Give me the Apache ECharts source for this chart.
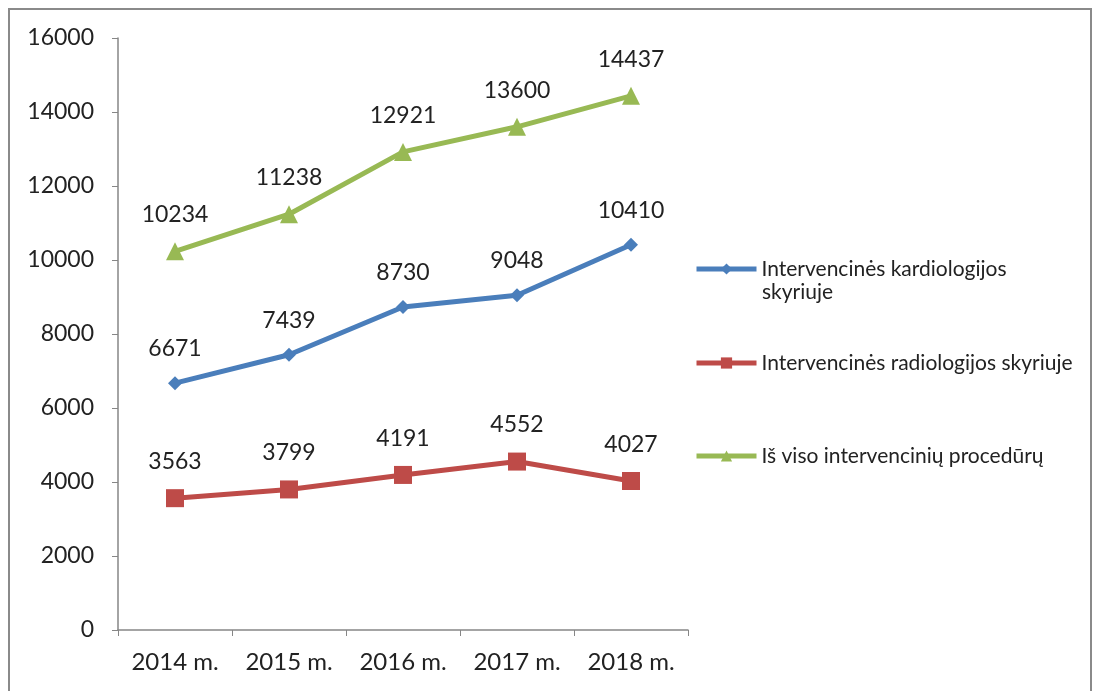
<!DOCTYPE html>
<html><head><meta charset="utf-8">
<script src="https://cdn.jsdelivr.net/npm/echarts@6/dist/echarts.min.js"></script>
<style>html,body{margin:0;padding:0;background:#fff;}#c{width:1093px;height:691px;}</style>
</head><body><div id="c"></div>
<script>
const categories = ['2014 m.', '2015 m.', '2016 m.', '2017 m.', '2018 m.'];
const kardiologija = [6671, 7439, 8730, 9048, 10410];
const radiologija = [3563, 3799, 4191, 4552, 4027];
const isViso = [10234, 11238, 12921, 13600, 14437];
const seriesNames = ['Intervencinės kardiologijos skyriuje', 'Intervencinės radiologijos skyriuje', 'Iš viso intervencinių procedūrų'];
const legendFirstLine = 'Intervencinės kardiologijos';
const legendSecondLine = 'skyriuje';

const FONT = 'Lato';
const chart = echarts.init(document.getElementById('c'));
const axisColor = '#868686';
const lbl = {show: true, position: 'top', distance: 16, color: '#222', fontSize: 23, fontFamily: FONT};
function mkLegend(name, top) {
  return {
    orient: 'vertical', left: 689, top: top, itemWidth: 60, itemHeight: 14,
    data: [name],
    formatter: function (n) { return n === seriesNames[0] ? legendFirstLine : n; },
    textStyle: {fontFamily: FONT, fontSize: 21, color: '#222', lineHeight: 24},
    lineStyle: {width: 5},
    selectedMode: false
  };
}
chart.setOption({
  animation: false,
  graphic: [
    {type: 'rect', shape: {x: 9, y: 9, width: 1082, height: 700}, style: {fill: 'none', stroke: '#8a8a8a', lineWidth: 2}, silent: true},
    {type: 'text', x: 762, y: 292, style: {text: legendSecondLine, font: '21px Lato', fill: '#222', verticalAlign: 'middle', align: 'left'}, silent: true}
  ],
  grid: {left: 118, right: 405, top: 38, bottom: 61, containLabel: false},
  legend: [
    mkLegend(seriesNames[0], 252),
    mkLegend(seriesNames[1], 346),
    mkLegend(seriesNames[2], 439)
  ],
  xAxis: {
    type: 'category', data: categories, boundaryGap: true,
    axisLine: {lineStyle: {color: axisColor, width: 1.5}},
    axisTick: {show: true, length: 6, inside: false, lineStyle: {color: axisColor}},
    axisLabel: {color: '#222', fontSize: 24, fontFamily: FONT, margin: 20}
  },
  yAxis: {
    type: 'value', min: 0, max: 16000, interval: 2000,
    axisLine: {show: true, lineStyle: {color: axisColor, width: 1.5}},
    axisTick: {show: true, length: 6, lineStyle: {color: axisColor}},
    splitLine: {show: false},
    axisLabel: {color: '#222', fontSize: 23, fontFamily: FONT, margin: 24, formatter: function (v) { return String(v); }}
  },
  series: [
    {name: seriesNames[0], type: 'line', data: kardiologija, color: '#4a7ebb',
     lineStyle: {width: 5}, symbol: 'diamond', symbolSize: 14, label: lbl},
    {name: seriesNames[1], type: 'line', data: radiologija, color: '#be4b48',
     lineStyle: {width: 5}, symbol: 'rect', symbolSize: 18, label: lbl},
    {name: seriesNames[2], type: 'line', data: isViso, color: '#98b954',
     lineStyle: {width: 5}, symbol: 'triangle', symbolSize: 18, label: lbl}
  ]
});
</script></body></html>
